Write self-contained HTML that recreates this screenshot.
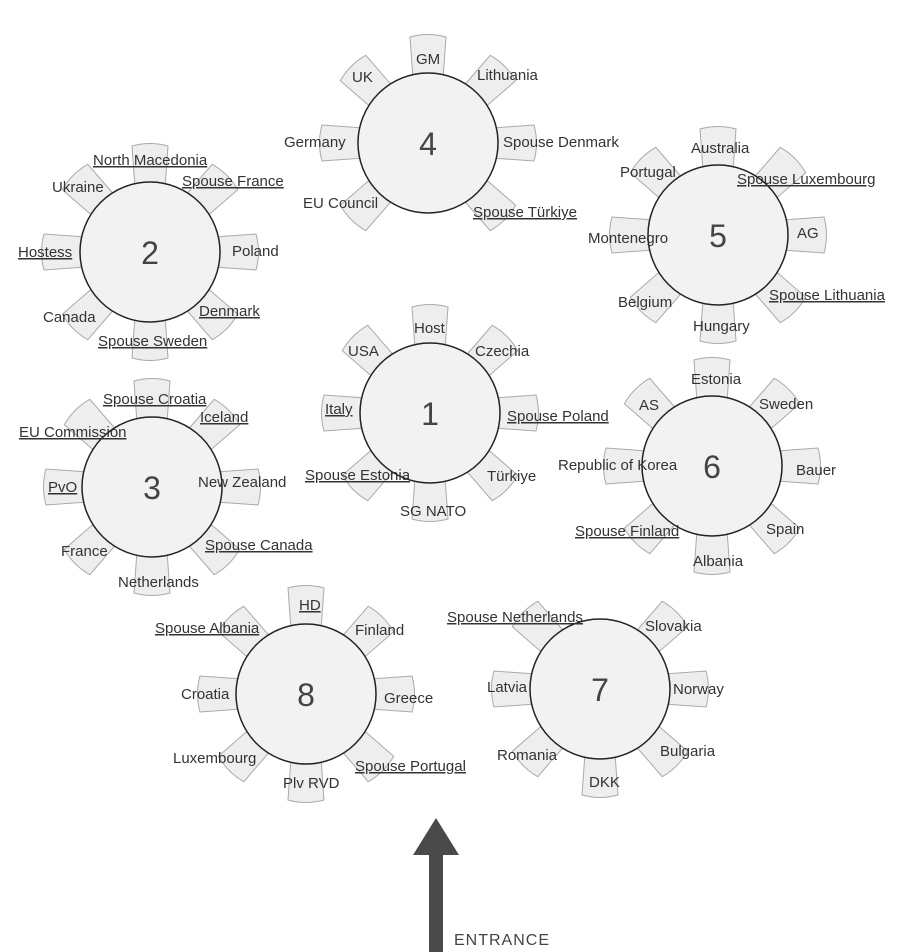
<!DOCTYPE html>
<html><head><meta charset="utf-8"><style>
html,body{margin:0;padding:0;background:#fff}
svg{display:block}
text{font-family:"Liberation Sans",sans-serif;font-size:15px;fill:#333}
.u{text-decoration:underline}
.n{font-size:32px;fill:#444;text-anchor:middle}
</style></head><body>
<svg width="905" height="952" viewBox="0 0 905 952" xmlns="http://www.w3.org/2000/svg">
<defs>
<path id="c" d="M -15,-64 L -18,-106 Q 0,-111 18,-106 L 15,-64 Z" fill="#eeeeee" stroke="#aaaaaa" stroke-width="1"/>
<circle id="t" r="70" fill="#f2f2f2" stroke="#222" stroke-width="1.5"/>
</defs>
<g transform="translate(428,143)">
<use href="#c" transform="rotate(0)"/><use href="#c" transform="rotate(45)"/><use href="#c" transform="rotate(90)"/><use href="#c" transform="rotate(135)"/><use href="#c" transform="rotate(225)"/><use href="#c" transform="rotate(270)"/><use href="#c" transform="rotate(315)"/>
<use href="#t"/><text class="n" y="12">4</text></g>
<g transform="translate(150,252)">
<use href="#c" transform="rotate(0)"/><use href="#c" transform="rotate(45)"/><use href="#c" transform="rotate(90)"/><use href="#c" transform="rotate(135)"/><use href="#c" transform="rotate(180)"/><use href="#c" transform="rotate(225)"/><use href="#c" transform="rotate(270)"/><use href="#c" transform="rotate(315)"/>
<use href="#t"/><text class="n" y="12">2</text></g>
<g transform="translate(718,235)">
<use href="#c" transform="rotate(0)"/><use href="#c" transform="rotate(45)"/><use href="#c" transform="rotate(90)"/><use href="#c" transform="rotate(135)"/><use href="#c" transform="rotate(180)"/><use href="#c" transform="rotate(225)"/><use href="#c" transform="rotate(270)"/><use href="#c" transform="rotate(315)"/>
<use href="#t"/><text class="n" y="12">5</text></g>
<g transform="translate(430,413)">
<use href="#c" transform="rotate(0)"/><use href="#c" transform="rotate(45)"/><use href="#c" transform="rotate(90)"/><use href="#c" transform="rotate(135)"/><use href="#c" transform="rotate(180)"/><use href="#c" transform="rotate(225)"/><use href="#c" transform="rotate(270)"/><use href="#c" transform="rotate(315)"/>
<use href="#t"/><text class="n" y="12">1</text></g>
<g transform="translate(712,466)">
<use href="#c" transform="rotate(0)"/><use href="#c" transform="rotate(45)"/><use href="#c" transform="rotate(90)"/><use href="#c" transform="rotate(135)"/><use href="#c" transform="rotate(180)"/><use href="#c" transform="rotate(225)"/><use href="#c" transform="rotate(270)"/><use href="#c" transform="rotate(315)"/>
<use href="#t"/><text class="n" y="12">6</text></g>
<g transform="translate(152,487)">
<use href="#c" transform="rotate(0)"/><use href="#c" transform="rotate(45)"/><use href="#c" transform="rotate(90)"/><use href="#c" transform="rotate(135)"/><use href="#c" transform="rotate(180)"/><use href="#c" transform="rotate(225)"/><use href="#c" transform="rotate(270)"/><use href="#c" transform="rotate(315)"/>
<use href="#t"/><text class="n" y="12">3</text></g>
<g transform="translate(306,694)">
<use href="#c" transform="rotate(0)"/><use href="#c" transform="rotate(45)"/><use href="#c" transform="rotate(90)"/><use href="#c" transform="rotate(135)"/><use href="#c" transform="rotate(180)"/><use href="#c" transform="rotate(225)"/><use href="#c" transform="rotate(270)"/><use href="#c" transform="rotate(315)"/>
<use href="#t"/><text class="n" y="12">8</text></g>
<g transform="translate(600,689)">
<use href="#c" transform="rotate(45)"/><use href="#c" transform="rotate(90)"/><use href="#c" transform="rotate(135)"/><use href="#c" transform="rotate(180)"/><use href="#c" transform="rotate(225)"/><use href="#c" transform="rotate(270)"/><use href="#c" transform="rotate(315)"/>
<use href="#t"/><text class="n" y="12">7</text></g>

<text x="352" y="82">UK</text><text x="416" y="64">GM</text><text x="477" y="80">Lithuania</text>
<text x="284" y="147">Germany</text><text x="503" y="147">Spouse Denmark</text>
<text x="303" y="208">EU Council</text><text class="u" x="473" y="217">Spouse Türkiye</text>
<text class="u" x="93" y="165">North Macedonia</text><text x="52" y="192">Ukraine</text>
<text class="u" x="182" y="186">Spouse France</text><text class="u" x="18" y="257">Hostess</text>
<text x="232" y="256">Poland</text><text x="43" y="322">Canada</text>
<text class="u" x="199" y="316">Denmark</text><text class="u" x="98" y="346">Spouse Sweden</text>
<text x="691" y="153">Australia</text><text x="620" y="177">Portugal</text>
<text class="u" x="737" y="184">Spouse Luxembourg</text><text x="588" y="243">Montenegro</text>
<text x="797" y="238">AG</text><text x="618" y="307">Belgium</text>
<text class="u" x="769" y="300">Spouse Lithuania</text><text x="693" y="331">Hungary</text>
<text x="414" y="333">Host</text><text x="348" y="356">USA</text><text x="475" y="356">Czechia</text>
<text class="u" x="325" y="414">Italy</text><text class="u" x="507" y="421">Spouse Poland</text>
<text class="u" x="305" y="480">Spouse Estonia</text><text x="487" y="481">Türkiye</text>
<text x="400" y="516">SG NATO</text>
<text x="691" y="384">Estonia</text><text x="639" y="410">AS</text><text x="759" y="409">Sweden</text>
<text x="558" y="470">Republic of Korea</text><text x="796" y="475">Bauer</text>
<text class="u" x="575" y="536">Spouse Finland</text><text x="766" y="534">Spain</text>
<text x="693" y="566">Albania</text>
<text class="u" x="103" y="404">Spouse Croatia</text><text class="u" x="200" y="422">Iceland</text>
<text class="u" x="19" y="437">EU Commission</text><text x="198" y="487">New Zealand</text>
<text class="u" x="48" y="492">PvO</text><text x="61" y="556">France</text>
<text class="u" x="205" y="550">Spouse Canada</text><text x="118" y="587">Netherlands</text>
<text class="u" x="299" y="610">HD</text><text class="u" x="155" y="633">Spouse Albania</text>
<text x="355" y="635">Finland</text><text x="181" y="699">Croatia</text>
<text x="384" y="703">Greece</text><text x="173" y="763">Luxembourg</text>
<text class="u" x="355" y="771">Spouse Portugal</text><text x="283" y="788">Plv RVD</text>
<text class="u" x="447" y="622">Spouse Netherlands</text><text x="645" y="631">Slovakia</text>
<text x="487" y="692">Latvia</text><text x="673" y="694">Norway</text>
<text x="497" y="760">Romania</text><text x="660" y="756">Bulgaria</text>
<text x="589" y="787">DKK</text>

<rect x="429" y="854" width="14" height="98" fill="#4a4a4a"/>
<polygon points="413,855 459,855 436,818" fill="#4a4a4a"/>
<text x="454" y="945" style="font-size:16px;fill:#444;letter-spacing:1px">ENTRANCE</text>
</svg>
</body></html>
